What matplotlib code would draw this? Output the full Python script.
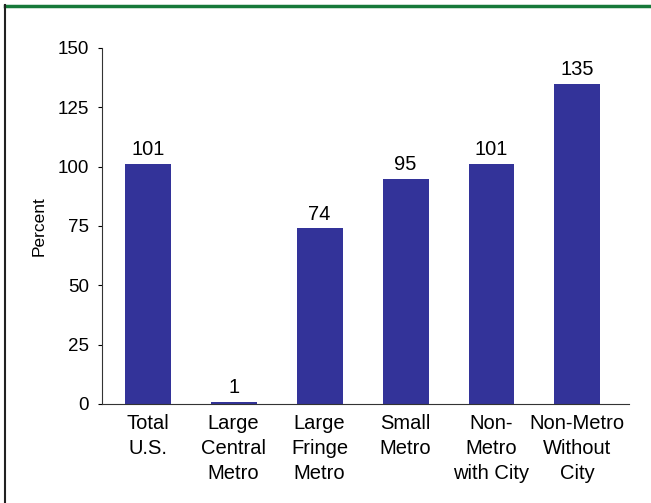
import matplotlib
matplotlib.use("Agg")
from matplotlib import pyplot as plt
from matplotlib.lines import Line2D
import numpy as np

# donnees
categories = ["Total\nU.S.", "Large\nCentral\nMetro", "Large\nFringe\nMetro",
              "Small\nMetro", "Non-\nMetro\nwith City", "Non-Metro\nWithout\nCity"]
valeurs = [101, 1, 74, 95, 101, 135]
yticks = [0, 25, 50, 75, 100, 125, 150]

plt.rcParams['font.family'] = ['Liberation Sans', 'DejaVu Sans']

W, H = 651, 503
fig = plt.figure(figsize=(W / 100, H / 100), dpi=100)
ax = fig.add_axes([102 / W, 1 - 404 / H, (629 - 102) / W, (404 - 48) / H])

x = np.arange(len(categories))
barres = ax.bar(x, valeurs, width=0.535, color="#333399")
for b, v in zip(barres, valeurs):
    ax.annotate(str(v), (b.get_x() + b.get_width() / 2, v), xytext=(0, 3.5),
                textcoords="offset points", ha="center", va="bottom", fontsize=14.5)

ax.set_xlim(-0.532, 5.60)
ax.set_ylim(0, 150)
ax.set_yticks(yticks)
ax.set_xticks(x)
ax.set_xticklabels(categories, fontsize=14.5, linespacing=1.4)
ax.tick_params(axis="x", length=0, pad=7)
ax.tick_params(axis="y", length=3, direction="out", labelsize=13.5, pad=6.5)
ax.spines["top"].set_visible(False)
ax.spines["right"].set_visible(False)
ax.spines["left"].set_color("#333333")
ax.spines["bottom"].set_color("#333333")
ax.set_ylabel("Percent", fontsize=12.5, labelpad=8)

# cadre : trait vert en haut, trait sombre a gauche
fig.add_artist(Line2D([5 / W, 1], [1 - 6 / H, 1 - 6 / H], color="#16793a", lw=2.5,
                      transform=fig.transFigure))
fig.add_artist(Line2D([5 / W, 5 / W], [0, 1 - 5 / H], color="#222222", lw=1.5,
                      transform=fig.transFigure))

fig.savefig("out.png", dpi=100)
